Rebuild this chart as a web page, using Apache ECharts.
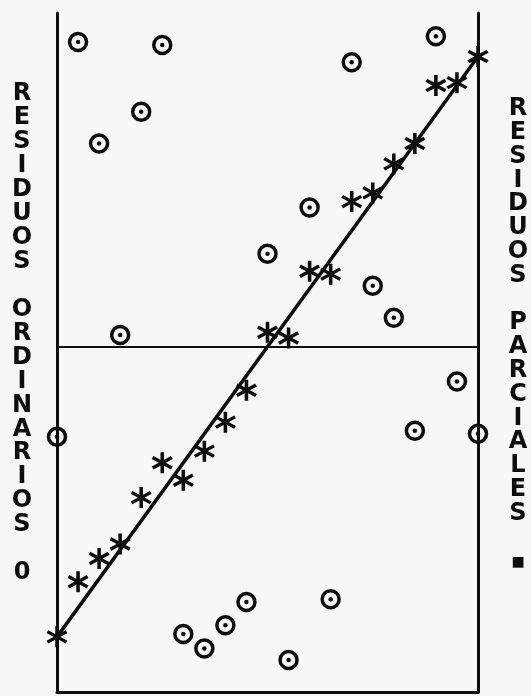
<!DOCTYPE html>
<html>
<head>
<meta charset="utf-8">
<script src="https://cdn.jsdelivr.net/npm/echarts@6/dist/echarts.min.js"></script>
<style>
  html, body { margin: 0; padding: 0; background: #f7f7f7; }
  #chart { width: 531px; height: 696px; }
</style>
</head>
<body>
<div id="chart"></div>
<script>
// observation index (x positions)
const obsIndex = [0, 1, 2, 3, 4, 5, 6, 7, 8, 9, 10, 11, 12, 13, 14, 15, 16, 17, 18, 19, 20];
// partial residuals (asterisks)
const residuosParciales = [-10.0, -8.1, -7.3, -6.8, -5.2, -4.0, -4.6, -3.6, -2.6, -1.5, 0.5, 0.3, 2.6, 2.5, 5.0, 5.3, 6.3, 7.0, 9.0, 9.1, 10.0];
// ordinary residuals (circles)
const residuosOrdinarios = [-3.1, 10.5, 7.0, 0.4, 8.1, 10.4, -9.9, -10.4, -9.6, -8.8, 3.2, -10.8, 4.8, -8.7, 9.8, 2.1, 1.0, -2.9, 10.7, -1.2, -3.0];
// fitted line end points
const fitLineX = [0, 20];
const fitLineY = [-10, 10];
// axis labels (stacked vertically)
const leftLabelWords = ['RESIDUOS', 'ORDINARIOS'];
const leftLabelSymbol = '0';
const rightLabelWords = ['RESIDUOS', 'PARCIALES'];
const rightLabelSymbol = '■';

const ink = '#0d0d0d';
// six-armed asterisk built from three filled bars
const starPath = 'path://M-1.6,10L1.6,10L1.6,-10L-1.6,-10Z' +
  'M7.86,6.386L9.46,3.614L-7.86,-6.386L-9.46,-3.614Z' +
  'M-9.46,3.614L-7.86,6.386L9.46,-3.614L7.86,-6.386Z';

const parcialData = obsIndex.map((x, i) => [x, residuosParciales[i]]);
const ordData = obsIndex.map((x, i) => [x, residuosOrdinarios[i]]);
const fitData = fitLineX.map((x, i) => [x, fitLineY[i]]);

function stack(words) {
  return words.map(w => w.split('').join('\n')).join('\n \n');
}

const labelFont = 'bold 24px "DejaVu Sans", sans-serif';

const chart = echarts.init(document.getElementById('chart'), null, { renderer: 'canvas' });
chart.setOption({
  backgroundColor: '#f7f7f7',
  animation: false,
  grid: { left: 57, right: 53, top: 13, bottom: 4, containLabel: false },
  xAxis: {
    type: 'value', min: 0, max: 20,
    axisLine: { show: true, onZero: false, lineStyle: { color: ink, width: 3 } },
    axisTick: { show: false }, axisLabel: { show: false }, splitLine: { show: false }
  },
  yAxis: [
    {
      type: 'value', min: -11.9, max: 11.5, position: 'left',
      axisLine: { show: true, onZero: false, lineStyle: { color: ink, width: 3 } },
      axisTick: { show: false }, axisLabel: { show: false }, splitLine: { show: false }
    },
    {
      type: 'value', min: -11.9, max: 11.5, position: 'right',
      axisLine: { show: true, onZero: false, lineStyle: { color: ink, width: 3 } },
      axisTick: { show: false }, axisLabel: { show: false }, splitLine: { show: false }
    }
  ],
  graphic: [
    {
      type: 'text', x: 22, y: 82,
      style: {
        text: stack(leftLabelWords) + '\n \n' + leftLabelSymbol,
        fill: ink, font: labelFont,
        lineHeight: 23.95, textAlign: 'center', textVerticalAlign: 'top'
      }
    },
    {
      type: 'text', x: 518, y: 97,
      style: {
        text: stack(rightLabelWords),
        fill: ink, font: labelFont,
        lineHeight: 23.8, textAlign: 'center', textVerticalAlign: 'top'
      }
    },
    {
      type: 'text', x: 518, y: 562,
      style: {
        text: rightLabelSymbol,
        fill: ink, font: 'bold 14px "DejaVu Sans", sans-serif',
        textAlign: 'center', textVerticalAlign: 'middle'
      }
    }
  ],
  series: [
    {
      type: 'line', data: fitData, symbol: 'none', silent: true, z: 3,
      lineStyle: { color: ink, width: 3.5 },
      markLine: {
        silent: true, symbol: ['none', 'none'], label: { show: false },
        lineStyle: { color: ink, width: 2.2, type: 'solid' },
        data: [{ yAxis: 0 }]
      }
    },
    {
      type: 'scatter', data: parcialData, symbol: starPath, symbolSize: 21, clip: false, z: 4,
      itemStyle: { color: ink, opacity: 1 }
    },
    {
      type: 'scatter', data: ordData, symbol: 'circle', symbolSize: 17, clip: false, z: 4,
      itemStyle: { color: 'rgba(0,0,0,0)', borderColor: ink, borderWidth: 3.5, opacity: 1 }
    },
    {
      type: 'scatter', data: ordData, symbol: 'circle', symbolSize: 4.5, clip: false, z: 5,
      itemStyle: { color: ink, opacity: 1 }
    }
  ]
});
</script>
</body>
</html>
